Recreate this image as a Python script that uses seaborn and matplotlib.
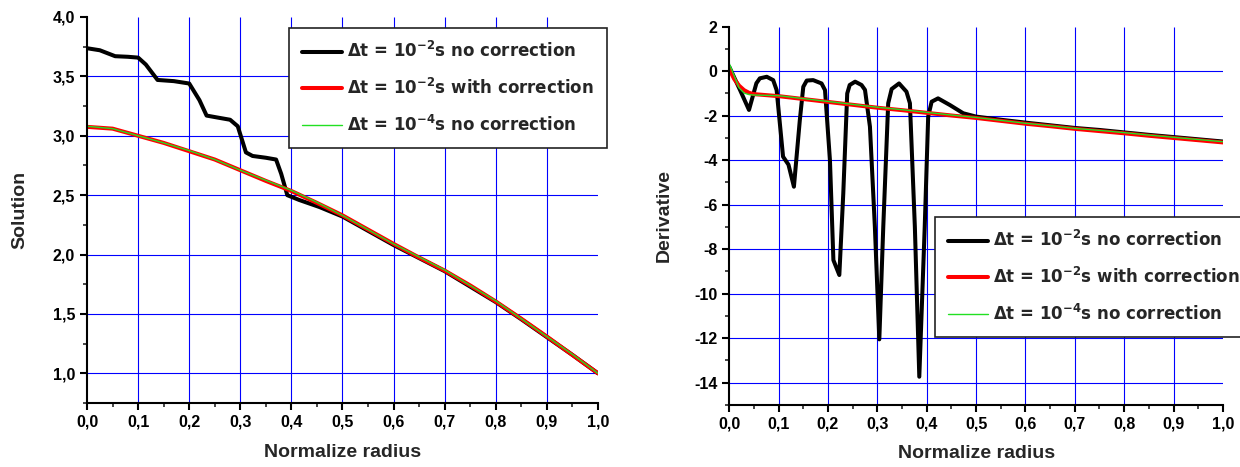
import numpy as np
import pandas as pd
import matplotlib
matplotlib.use("Agg")
import matplotlib.pyplot as plt
import seaborn as sns
from matplotlib.ticker import MultipleLocator, FuncFormatter

# ---------------- data ----------------
labels = [r"Δt = 10$^{\mathbf{-2}}$s no correction",
          r"Δt = 10$^{\mathbf{-2}}$s with correction",
          r"Δt = 10$^{\mathbf{-4}}$s no correction"]

# Left panel: Solution
x_sol = [0.00, 0.05, 0.10, 0.15, 0.20, 0.25, 0.30, 0.35, 0.40, 0.45, 0.50,
         0.55, 0.60, 0.65, 0.70, 0.75, 0.80, 0.85, 0.90, 0.95, 1.00]
sol_fine = [3.08, 3.06, 3.00, 2.94, 2.875, 2.80, 2.71, 2.625, 2.54, 2.44, 2.33,
            2.21, 2.09, 1.98, 1.87, 1.74, 1.61, 1.46, 1.31, 1.16, 1.00]
sol_corr = [3.075, 3.06, 3.00, 2.94, 2.87, 2.80, 2.71, 2.62, 2.535, 2.435, 2.33,
            2.21, 2.09, 1.975, 1.865, 1.74, 1.605, 1.46, 1.31, 1.155, 1.00]
x_sol_raw = [0.000, 0.025, 0.055, 0.080, 0.100, 0.115, 0.138, 0.170, 0.200, 0.220,
             0.234, 0.260, 0.280, 0.295, 0.311, 0.324, 0.350, 0.370, 0.380, 0.392,
             0.415, 0.455, 0.500, 0.550, 0.600, 0.650, 0.700, 0.750, 0.800, 0.850,
             0.900, 0.950, 1.000]
sol_raw = [3.737, 3.72, 3.67, 3.665, 3.658, 3.60, 3.47, 3.46, 3.44, 3.30,
           3.17, 3.15, 3.135, 3.08, 2.86, 2.83, 2.815, 2.80, 2.68, 2.50,
           2.46, 2.40, 2.32, 2.20, 2.08, 1.97, 1.86, 1.73, 1.60, 1.455,
           1.305, 1.155, 1.00]

# Right panel: Derivative
x_der = [0.00, 0.01, 0.02, 0.03, 0.04, 0.05, 0.10, 0.15, 0.20, 0.25, 0.30,
         0.35, 0.40, 0.45, 0.50, 0.55, 0.60, 0.65, 0.70, 0.75, 0.80, 0.85,
         0.90, 0.95, 1.00]
der_fine = [0.35, -0.20, -0.75, -0.98, -1.05, -1.07, -1.10, -1.23, -1.36, -1.49,
            -1.62, -1.73, -1.85, -1.97, -2.08, -2.21, -2.34, -2.45, -2.57, -2.66,
            -2.76, -2.87, -2.97, -3.07, -3.17]
der_corr = [0.10, -0.35, -0.65, -0.85, -0.97, -1.03, -1.12, -1.25, -1.38, -1.51,
            -1.64, -1.75, -1.87, -1.99, -2.10, -2.23, -2.36, -2.47, -2.59, -2.69,
            -2.79, -2.90, -3.00, -3.10, -3.20]
x_der_raw = [0.000, 0.022, 0.040, 0.055, 0.062, 0.076, 0.089, 0.096, 0.109, 0.120,
             0.131, 0.143, 0.150, 0.157, 0.170, 0.187, 0.194, 0.204, 0.211, 0.223,
             0.231, 0.239, 0.244, 0.255, 0.268, 0.275, 0.285, 0.295, 0.304, 0.312,
             0.322, 0.329, 0.344, 0.359, 0.366, 0.376, 0.385, 0.396, 0.403, 0.410,
             0.423, 0.447, 0.474, 0.500, 0.550, 0.600, 0.650, 0.700, 0.750, 0.800,
             0.850, 0.900, 0.950, 1.000]
der_raw = [0.20, -0.85, -1.74, -0.54, -0.32, -0.25, -0.40, -0.85, -3.84, -4.20,
           -5.19, -2.19, -0.70, -0.42, -0.40, -0.55, -0.85, -4.00, -8.49, -9.16,
           -5.49, -1.00, -0.62, -0.47, -0.62, -0.84, -2.49, -6.99, -12.05, -7.00,
           -1.44, -0.80, -0.55, -0.92, -1.44, -6.99, -13.73, -6.99, -2.04, -1.37,
           -1.22, -1.52, -1.89, -2.04, -2.18, -2.31, -2.43, -2.55, -2.64, -2.75,
           -2.86, -2.96, -3.06, -3.16]

x_ticks = [0.0, 0.1, 0.2, 0.3, 0.4, 0.5, 0.6, 0.7, 0.8, 0.9, 1.0]
sol_ticks = [1.0, 1.5, 2.0, 2.5, 3.0, 3.5, 4.0]
der_ticks = [-14, -12, -10, -8, -6, -4, -2, 0, 2]

# ---------------- style ----------------
sns.set_style("ticks")
plt.rcParams.update({
    "font.family": ["Liberation Sans", "DejaVu Sans"],
    "font.weight": "bold",
    "axes.labelweight": "bold",
    "mathtext.fontset": "dejavusans",
})

fig = plt.figure(figsize=(12.4, 4.67), dpi=100)
ax1 = fig.add_axes([0.0702, 0.137, 0.412, 0.8266])
ax2 = fig.add_axes([0.5881, 0.1328, 0.3981, 0.810])

GRID = "#0000ff"
BLACK_LW, RED_LW, GREEN_LW = 2.9, 2.9, 1.0
GREEN = "#22e022"


def comma1(v, p):
    return f"{v:.1f}".replace(".", ",")


def style_axes(ax, ylim, yticks, yminor, yfmt, ylabel, legend_anchor):
    ax.set_xlim(0, 1)
    ax.set_ylim(*ylim)
    ax.set_xticks(x_ticks)
    ax.set_yticks(yticks)
    ax.xaxis.set_minor_locator(MultipleLocator(0.05))
    ax.yaxis.set_minor_locator(MultipleLocator(yminor))
    ax.xaxis.set_major_formatter(FuncFormatter(comma1))
    ax.yaxis.set_major_formatter(FuncFormatter(yfmt))
    # grid (skip lines lying on the axes edges)
    gx = [t for t in x_ticks if 0 < t < 1]
    gy = [t for t in yticks if ylim[0] < t < ylim[1]]
    ax.vlines(gx, ylim[0], ylim[1], colors=GRID, lw=0.8, zorder=0.5)
    ax.hlines(gy, 0, 1, colors=GRID, lw=0.8, zorder=0.5)
    for s in ["top", "right"]:
        ax.spines[s].set_visible(False)
    for s in ["left", "bottom"]:
        ax.spines[s].set_linewidth(1.5)
        ax.spines[s].set_color("black")
    ax.tick_params(which="major", direction="out", length=5, width=1.5,
                   labelsize=11.5, colors="black")
    ax.tick_params(which="minor", direction="out", length=3, width=1.2)
    for lab in ax.get_xticklabels() + ax.get_yticklabels():
        lab.set_fontweight("bold")
    ax.set_xlabel("Normalize radius", fontsize=14, fontweight="bold")
    ax.set_ylabel(ylabel, fontsize=14, fontweight="bold")
    ax.xaxis.set_label_coords(0.5, -0.105)
    ax.yaxis.set_label_coords(-0.115, 0.5)
    leg = ax.legend(loc="upper left", bbox_to_anchor=legend_anchor,
                    borderaxespad=0, frameon=True, fancybox=False,
                    edgecolor="#222222", framealpha=1,
                    prop={"family": "DejaVu Sans", "weight": "bold", "size": 12},
                    handlelength=2.4, handletextpad=0.3, labelspacing=0.99,
                    borderpad=0.8)
    leg.get_frame().set_linewidth(1.2)
    leg.set_zorder(10)


# Left panel
sns.lineplot(x=x_sol_raw, y=sol_raw, ax=ax1, color="black", lw=BLACK_LW,
             label=labels[0], estimator=None, sort=False)
sns.lineplot(x=x_sol, y=sol_corr, ax=ax1, color="#ff0000", lw=RED_LW,
             label=labels[1], estimator=None, sort=False)
sns.lineplot(x=x_sol, y=sol_fine, ax=ax1, color=GREEN, lw=GREEN_LW,
             label=labels[2], estimator=None, sort=False)
style_axes(ax1, (0.75, 4.0), sol_ticks, 0.25, comma1, "Solution", (0.395, 0.9715))

# Right panel
sns.lineplot(x=x_der_raw, y=der_raw, ax=ax2, color="black", lw=BLACK_LW,
             label=labels[0], estimator=None, sort=False)
sns.lineplot(x=x_der, y=der_corr, ax=ax2, color="#ff0000", lw=RED_LW,
             label=labels[1], estimator=None, sort=False)
sns.lineplot(x=x_der, y=der_fine, ax=ax2, color=GREEN, lw=GREEN_LW,
             label=labels[2], estimator=None, sort=False)
style_axes(ax2, (-15, 2), der_ticks, 1, lambda v, p: f"{v:.0f}", "Derivative",
           (0.4167, 0.497))

fig.savefig("out.png", dpi=100)
